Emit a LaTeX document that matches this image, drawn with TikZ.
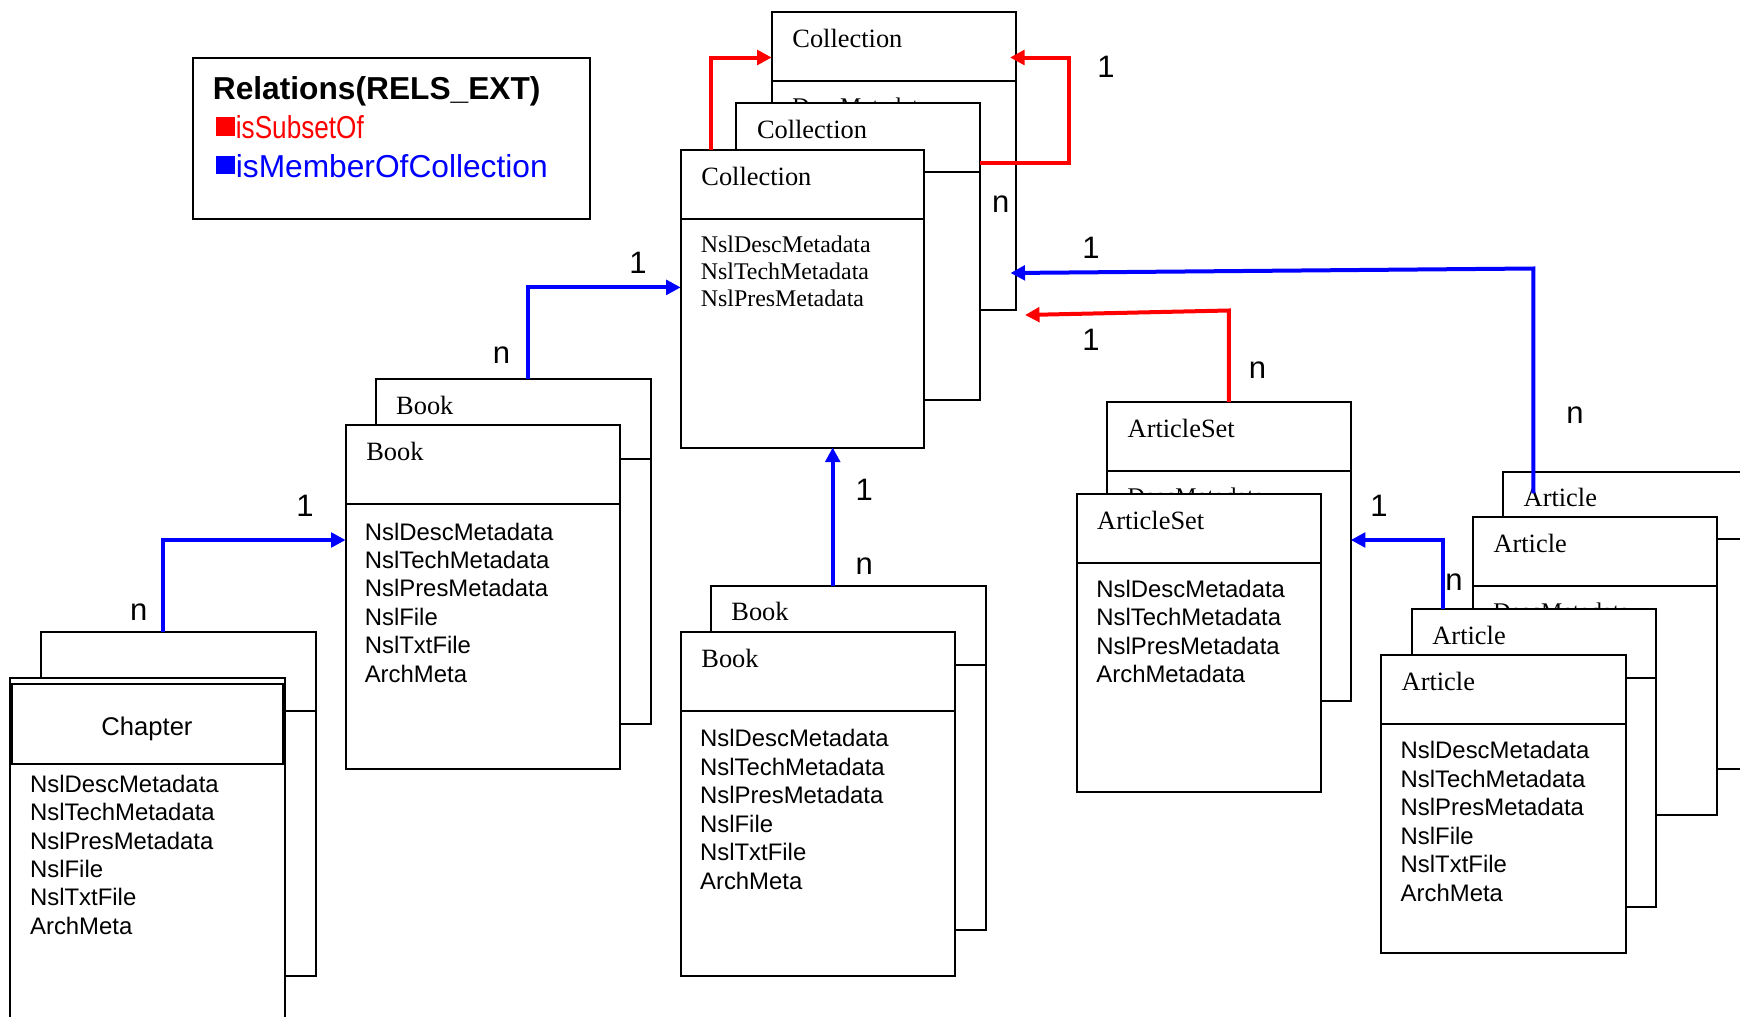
\documentclass[tikz,border=0pt]{standalone}
\usepackage{fontspec}
\usepackage{graphicx}
\setmainfont{Liberation Serif}
\newfontfamily\sansf{Liberation Sans}
\usetikzlibrary{arrows.meta}

% font sizes (1pt = 1 unit of the drawing)
\newcommand\ttlfont{\fontsize{26.4}{30}\selectfont}
\newcommand\serfld{\fontsize{23.9}{27.2}\selectfont}
\newcommand\sanfld{\sansf\fontsize{23.9}{28.6}\selectfont}
\newcommand\cardfont{\sansf\fontsize{31}{36}\selectfont}
\newcommand\legfont{\sansf\fontsize{31.7}{38}\selectfont}

\tikzset{
  umlbox/.style={draw, line width=2pt, fill=white, inner sep=0pt, outer sep=0pt, anchor=north west},
  divider/.style={line width=2pt},
  fld/.style={inner sep=0pt, anchor=base west},
  ttl/.style={fld, font=\ttlfont},
  card/.style={inner sep=0pt, font=\cardfont},
  rel/.style={line width=4pt, -{Triangle[length=14.5pt,width=14.5pt]}},
  subset/.style={rel, color=red},
  member/.style={rel, color=blue},
}

% class frame: name, x, y (top-left), width, height, header height
\newcommand\classframe[6]{%
  \node[umlbox, minimum width=#4pt, minimum height=#5pt] (#1) at (#2,#3) {};
  \draw[divider] ([yshift=-#6pt]#1.north west) -- ([yshift=-#6pt]#1.north east);
}
% class name in the header
\newcommand\classtitle[2]{%
  \node[ttl] (#1-title) at ([xshift=20.5pt,yshift=-35pt]#1.north west) {#2};
}
% attribute lines: name, font, x, first baseline, line step, list
\newcommand\fieldlist[6]{%
  \foreach \t [count=\k from 0] in {#6} {
    \node[fld, font=#2] (#1-f\k) at (#3, #4+\k*#5) {\t};
  }
}

\begin{document}
\begin{tikzpicture}[x=1pt,y=-1pt]
\useasboundingbox (0,0) rectangle (1740,1017);
\clip (0,0) rectangle (1740,1017);
\fill[white] (0,0) rectangle (1740,1017);

% ---------------- legend
\node[draw, line width=2pt, inner sep=0pt, outer sep=0pt, anchor=north west,
      minimum width=397.3pt, minimum height=160.7pt] (legend) at (192.7,58.3) {};
\node[fld, font=\legfont\bfseries] (leg-title) at (212.7,99.7) {Relations(RELS\_EXT)};
\node[fld, font=\legfont, text=red] (leg-subset) at (216,138.5)
  {\rule[3pt]{18.5pt}{18.5pt}\hspace{1.2pt}\scalebox{0.825}[1]{isSubsetOf}};
\node[fld, font=\legfont, text=blue] (leg-member) at (216,177)
  {\rule[3pt]{18.5pt}{18.5pt}\hspace{1.2pt}isMemberOfCollection};

% ---------------- Collection stack
\classframe{c3}{771.7}{12}{244.3}{298}{68.7}
\classtitle{c3}{Collection}
\node[fld, font=\serfld] (c3-desc) at (792.2,114) {DescMetadata};
\classframe{c2}{736.3}{103}{243.7}{296.8}{68.7}
\classtitle{c2}{Collection}
\classframe{c1}{680.7}{150}{243.6}{297.5}{69}
\classtitle{c1}{Collection}
\fieldlist{c1}{\serfld}{700.6}{252.3}{27.2}{NslDescMetadata,NslTechMetadata,NslPresMetadata}

% ---------------- Book stack (left)
\classframe{lb2}{375.5}{379.3}{275}{344.2}{79.7}
\classtitle{lb2}{Book}
\classframe{lb1}{345.6}{425}{274.5}{344}{79.3}
\classtitle{lb1}{Book}
\fieldlist{lb1}{\sanfld}{364.6}{540}{28.4}{NslDescMetadata,NslTechMetadata,NslPresMetadata,NslFile,NslTxtFile,ArchMeta}

% ---------------- Chapter stack
\classframe{ch2}{40.5}{632}{275.2}{344}{78.7}
\node[umlbox, minimum width=274.7pt, minimum height=420pt] (ch1) at (10.3,677.7) {};
\node[umlbox, minimum width=271pt, minimum height=80pt] (ch1h) at (11.7,684) {};
\node[inner sep=0pt, anchor=base, font=\sansf\fontsize{25.6}{30}\selectfont] (ch1-title) at (147,735) {Chapter};
\fieldlist{ch1}{\sanfld}{29.9}{792.3}{28.4}{NslDescMetadata,NslTechMetadata,NslPresMetadata,NslFile,NslTxtFile,ArchMeta}

% ---------------- Book stack (middle)
\classframe{mb2}{710.7}{585.6}{275}{344}{79.3}
\classtitle{mb2}{Book}
\classframe{mb1}{680.7}{632.1}{274.3}{344}{79.2}
\classtitle{mb1}{Book}
\fieldlist{mb1}{\sanfld}{699.9}{746.4}{28.6}{NslDescMetadata,NslTechMetadata,NslPresMetadata,NslFile,NslTxtFile,ArchMeta}

% ---------------- ArticleSet stack
\classframe{as2}{1107}{402}{243.8}{298.7}{68.7}
\classtitle{as2}{ArticleSet}
\node[fld, font=\serfld] (as2-desc) at (1127.5,504.5) {DescMetadata};
\classframe{as1}{1076.5}{494.3}{244.5}{298}{68.4}
\classtitle{as1}{ArticleSet}
\fieldlist{as1}{\sanfld}{1096.2}{597}{28.6}{NslDescMetadata,NslTechMetadata,NslPresMetadata,ArchMetadata}

% ---------------- Article stack
\classframe{a4}{1503}{471.5}{260}{297.5}{67.8}
\classtitle{a4}{Article}
\classframe{a3}{1472.8}{517.2}{243.9}{298}{68.7}
\classtitle{a3}{Article}
\node[fld, font=\serfld] (a3-desc) at (1493.1,619.5) {DescMetadata};
\classframe{a2}{1411.7}{609}{244.3}{298.3}{68.7}
\classtitle{a2}{Article}
\classframe{a1}{1381}{655}{244.7}{298.3}{69}
\classtitle{a1}{Article}
\fieldlist{a1}{\sanfld}{1400.5}{758.5}{28.6}{NslDescMetadata,NslTechMetadata,NslPresMetadata,NslFile,NslTxtFile,ArchMeta}

% ---------------- relations
\coordinate (artset-tip) at (1025,315);
\coordinate (art-start) at (1533.3,493.3);

% isSubsetOf
\draw[subset] (c1.north -| 710.7,0) -- (710.7,57.5) -- (c3.west |- 0,57.5);
\draw[subset] (c2.east |- 0,162.7) -- (1069,162.7) -- (1069,57.5) -- ([xshift=-6pt]c3.east |- 0,57.5);
\draw[subset] (as2.north -| 1228.8,0) -- (1228.8,310.5) -- (artset-tip);

% isMemberOfCollection
\draw[member] (art-start) -- (1533.3,268.5) -- ([xshift=-5.5pt]c3.east |- 0,273);
\draw[member] (mb2.north -| 832.7,0) -- (c1.south -| 832.7,0);
\draw[member] (lb2.north -| 528.2,0) -- (528.2,287.4) -- (c1.west |- 0,287.4);
\draw[member] (ch2.north -| 162.6,0) -- (162.6,540) -- (lb1.west |- 0,540);
\draw[member] (a2.north -| 1442.5,0) -- (1442.5,540) -- (as2.east |- 0,540);

% ---------------- cardinalities
\node[card] (k1) at (1106,66.7) {1};
\node[card] (k2) at (1000.7,204) {n};
\node[card] (k3) at (1091,248) {1};
\node[card] (k4) at (1091,339.5) {1};
\node[card] (k5) at (1257.5,370) {n};
\node[card] (k6) at (1575,415.5) {n};
\node[card] (k7) at (1379,506.3) {1};
\node[card] (k8) at (1454,582) {n};
\node[card] (k9) at (864.2,490) {1};
\node[card] (k10) at (864.2,566.5) {n};
\node[card] (k11) at (638,263) {1};
\node[card] (k12) at (501.6,355) {n};
\node[card] (k13) at (305,506.3) {1};
\node[card] (k14) at (138.8,612) {n};
\end{tikzpicture}
\end{document}
